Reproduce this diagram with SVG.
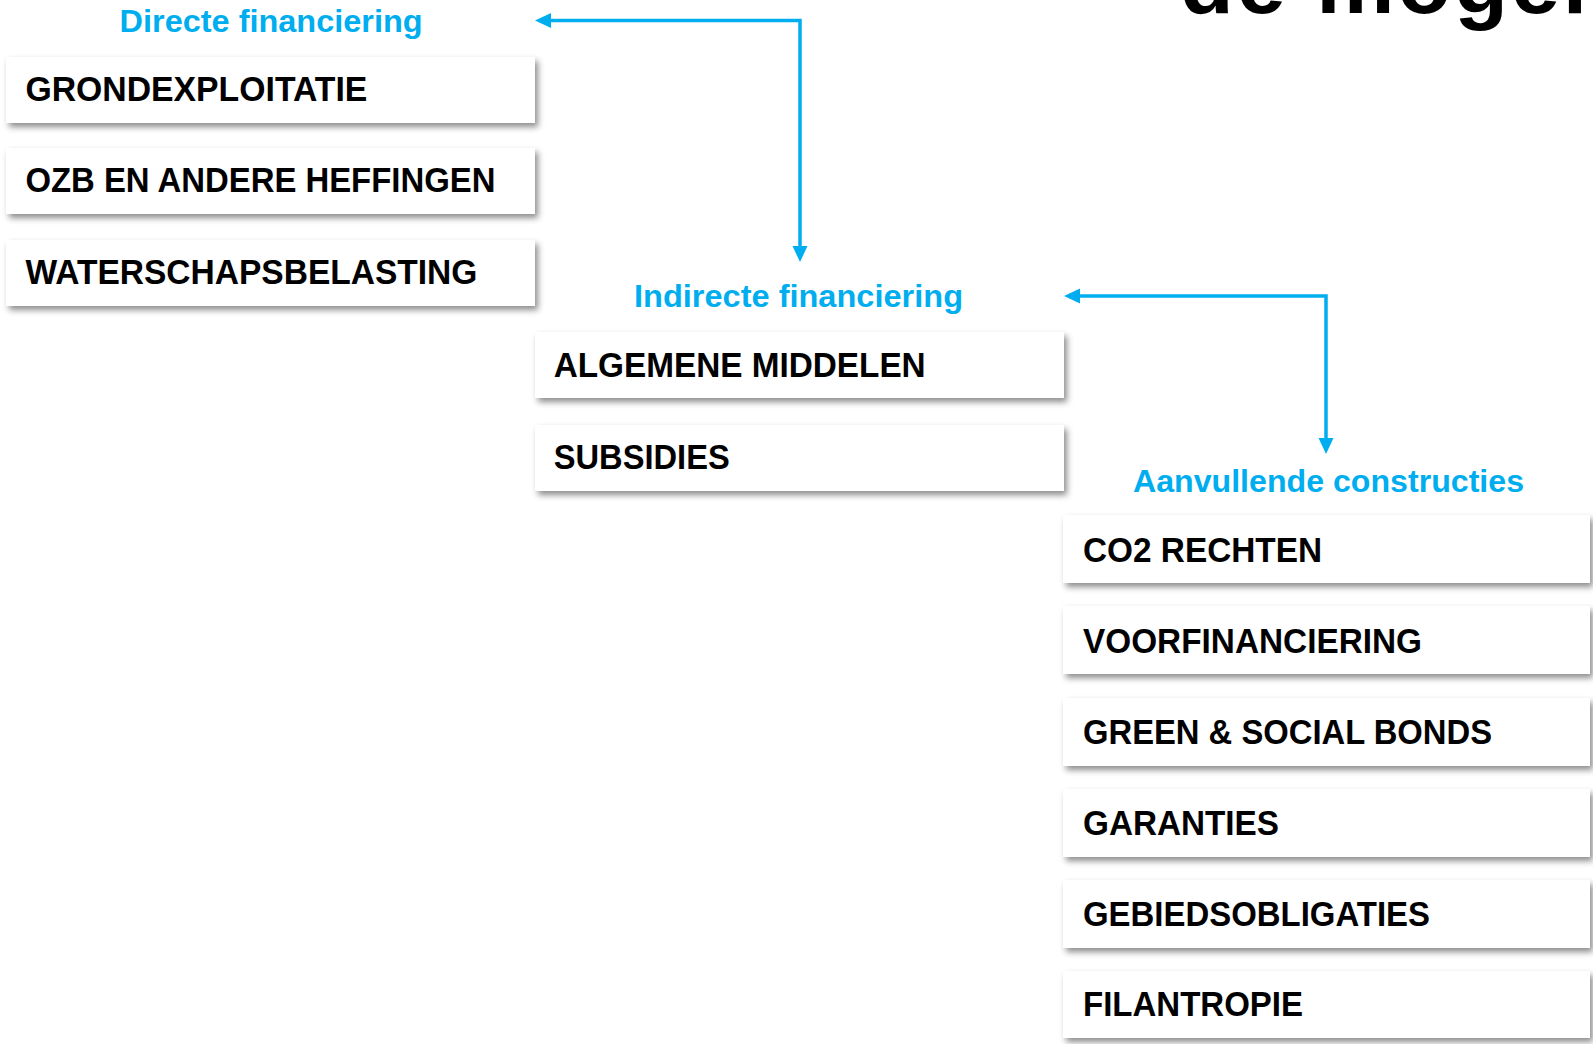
<svg xmlns="http://www.w3.org/2000/svg" width="1593" height="1044" viewBox="0 0 1593 1044">
<defs>
<style>
.box{fill:#ffffff;filter:url(#sh);}
.label{font-family:"Liberation Sans",Arial,sans-serif;font-weight:700;font-size:35px;fill:#000000;}
.title{font-family:"Liberation Sans",Arial,sans-serif;font-weight:700;font-size:32px;fill:#00AEEF;}
.head{font-family:"Liberation Sans",Arial,sans-serif;font-weight:700;font-size:88px;fill:#000000;letter-spacing:3px;}
.conn{fill:none;stroke:#00AEEF;stroke-width:3.5;marker-start:url(#ah);marker-end:url(#ah);}
</style>
<filter id="sh" x="-5%" y="-20%" width="110%" height="150%">
<feDropShadow dx="3" dy="4" stdDeviation="3" flood-color="#000000" flood-opacity="0.45"/>
</filter>
<marker id="ah" markerUnits="userSpaceOnUse" markerWidth="16" markerHeight="16" refX="8" refY="7.5" orient="auto-start-reverse">
<path d="M0,0 L16,7.5 L0,15 Z" fill="#00AEEF"/>
</marker>
</defs>
<rect width="1593" height="1044" fill="#ffffff"/>
<text class="head" x="1180" y="13">de mogelijkheden</text>

<g id="connectors">
<path class="conn" d="M543,20.5 H800 V254"/>
<path class="conn" d="M1072,296 H1326 V446"/>
</g>

<g id="directe-financiering">
<text class="title" x="119.6" y="31.7" textLength="303" lengthAdjust="spacingAndGlyphs">Directe financiering</text>
</g>
<g id="grondexploitatie">
<rect class="box" x="6" y="57" width="529" height="66"/>
<text class="label" x="25.4" y="100.5" textLength="342" lengthAdjust="spacingAndGlyphs">GRONDEXPLOITATIE</text>
</g>
<g id="ozb">
<rect class="box" x="6" y="148" width="529" height="66"/>
<text class="label" x="25.4" y="192" textLength="470" lengthAdjust="spacingAndGlyphs">OZB EN ANDERE HEFFINGEN</text>
</g>
<g id="waterschapsbelasting">
<rect class="box" x="6" y="240" width="529" height="66"/>
<text class="label" x="25.4" y="284" textLength="452" lengthAdjust="spacingAndGlyphs">WATERSCHAPSBELASTING</text>
</g>

<g id="indirecte-financiering">
<text class="title" x="634" y="307" textLength="329" lengthAdjust="spacingAndGlyphs">Indirecte financiering</text>
</g>
<g id="algemene-middelen">
<rect class="box" x="535" y="332" width="529" height="66"/>
<text class="label" x="553.7" y="377" textLength="372" lengthAdjust="spacingAndGlyphs">ALGEMENE MIDDELEN</text>
</g>
<g id="subsidies">
<rect class="box" x="535" y="425" width="529" height="66"/>
<text class="label" x="553.7" y="468.5" textLength="176" lengthAdjust="spacingAndGlyphs">SUBSIDIES</text>
</g>

<g id="aanvullende-constructies">
<text class="title" x="1133" y="491.7" textLength="391" lengthAdjust="spacingAndGlyphs">Aanvullende constructies</text>
</g>
<g id="co2-rechten">
<rect class="box" x="1063" y="515" width="527" height="68"/>
<text class="label" x="1083" y="562" textLength="239" lengthAdjust="spacingAndGlyphs">CO2 RECHTEN</text>
</g>
<g id="voorfinanciering">
<rect class="box" x="1063" y="606" width="527" height="68"/>
<text class="label" x="1083" y="653" textLength="339" lengthAdjust="spacingAndGlyphs">VOORFINANCIERING</text>
</g>
<g id="green-social-bonds">
<rect class="box" x="1063" y="698" width="527" height="68"/>
<text class="label" x="1083" y="743.5" textLength="409" lengthAdjust="spacingAndGlyphs">GREEN &amp; SOCIAL BONDS</text>
</g>
<g id="garanties">
<rect class="box" x="1063" y="789" width="527" height="68"/>
<text class="label" x="1083" y="835" textLength="196" lengthAdjust="spacingAndGlyphs">GARANTIES</text>
</g>
<g id="gebiedsobligaties">
<rect class="box" x="1063" y="880" width="527" height="68"/>
<text class="label" x="1083" y="925.5" textLength="347" lengthAdjust="spacingAndGlyphs">GEBIEDSOBLIGATIES</text>
</g>
<g id="filantropie">
<rect class="box" x="1063" y="971" width="527" height="67"/>
<text class="label" x="1083" y="1016" textLength="220" lengthAdjust="spacingAndGlyphs">FILANTROPIE</text>
</g>
</svg>
